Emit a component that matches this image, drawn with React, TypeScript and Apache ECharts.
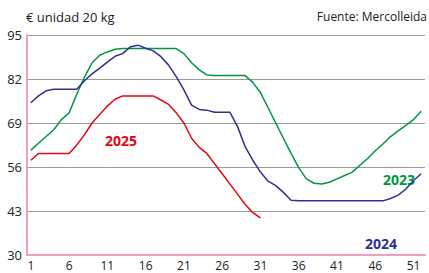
import React, { useEffect, useRef } from "react";
import * as echarts from "echarts";

const weeks: string[] = Array.from({ length: 52 }, (_, i) => String(i + 1));

const s2023: number[] = [
  61, 63, 65, 67, 70, 72, 77.5, 82.5, 86.8, 89, 90, 90.8, 91, 91, 91, 91, 91, 91, 91, 91,
  89.5, 86.8, 84.7, 83.2, 83, 83, 83, 83, 83, 81, 78, 73.5, 69, 64.5, 60, 55.8,
  52.5, 51.2, 51, 51.5, 52.5, 53.5, 54.5, 56.5, 58.5, 60.8, 62.8, 65, 66.7, 68.3, 70, 72.5,
];

const s2024: number[] = [
  75, 77, 78.5, 79, 79, 79, 79, 81.5, 83.5, 85.2, 87, 88.7, 89.5, 91.5, 92, 91.1, 90.3, 88.6, 86.1, 82.7,
  78.8, 74.3, 73, 72.8, 72.2, 72.2, 72.2, 68, 62, 58, 54.5, 51.8, 50.5, 48.5, 46.2, 46,
  46, 46, 46, 46, 46, 46, 46, 46, 46, 46, 46, 46.7, 47.7, 49.5, 52, 54,
];

const s2025: number[] = [
  58, 60, 60, 60, 60, 60, 62.5, 65.5, 69, 71.5, 74, 76, 77, 77, 77, 77, 77, 75.8, 74.5, 72,
  69, 64.5, 61.8, 60, 57, 54, 51, 48, 45, 42.5, 41,
];

const yTicks: number[] = [30, 43, 56, 69, 82, 95];

const RED = "#e30613";
const GREEN = "#009640";
const BLUE = "#2e3192";
const PINK = "#f29cc4";
const FONT = "Open Sans";

export default function App() {
  const ref = useRef<HTMLDivElement>(null);
  useEffect(() => {
    if (!ref.current) return;
    const chart = echarts.init(ref.current, undefined, { renderer: "svg" });
    chart.setOption({
      animation: false,
      backgroundColor: "#ffffff",
      grid: { left: 27, right: 4, top: 35, bottom: 18, containLabel: false },
      xAxis: {
        type: "category",
        data: weeks,
        boundaryGap: true,
        axisLine: { show: true, lineStyle: { color: PINK, width: 2 } },
        axisTick: { show: false },
        axisLabel: {
          interval: 4,
          color: "#222",
          fontSize: 12,
          lineHeight: 12,
          fontFamily: FONT,
          margin: 4,
        },
        splitLine: { show: false },
      },
      yAxis: {
        type: "value",
        min: 30,
        max: 95,
        axisLine: { show: true, lineStyle: { color: PINK, width: 2 } },
        axisTick: { show: false, customValues: yTicks },
        axisLabel: {
          customValues: yTicks,
          color: "#222",
          fontSize: 13,
          fontFamily: FONT,
          margin: 5,
        },
        splitLine: { show: true, lineStyle: { color: "#9a9a9a", width: 1 } },
      },
      series: [
        {
          name: "2023",
          type: "line",
          data: s2023,
          symbol: "none",
          lineStyle: { color: GREEN, width: 1.5 },
          z: 3,
        },
        {
          name: "2024",
          type: "line",
          data: s2024,
          symbol: "none",
          lineStyle: { color: BLUE, width: 1.5 },
          z: 4,
        },
        {
          name: "2025",
          type: "line",
          data: s2025,
          symbol: "none",
          lineStyle: { color: RED, width: 1.5 },
          z: 5,
        },
      ],
      graphic: [
        {
          type: "text",
          left: 26,
          top: 10,
          style: { text: "€ unidad 20 kg", fontSize: 13, fontFamily: FONT, fill: "#222" },
        },
        {
          type: "text",
          right: 2,
          top: 10,
          style: { text: "Fuente: Mercolleida", fontSize: 12, fontFamily: FONT, fill: "#222" },
        },
        {
          type: "text",
          x: 105,
          y: 133,
          style: { text: "2025", fontSize: 14, fontWeight: "bold", fontFamily: FONT, fill: RED },
        },
        {
          type: "text",
          x: 383,
          y: 172,
          style: { text: "2023", fontSize: 14, fontWeight: "bold", fontFamily: FONT, fill: GREEN },
        },
        {
          type: "text",
          x: 365,
          y: 236,
          style: { text: "2024", fontSize: 14, fontWeight: "bold", fontFamily: FONT, fill: BLUE },
        },
      ],
    });
    return () => chart.dispose();
  }, []);
  return (
    <div
      ref={ref}
      style={{ position: "fixed", left: 0, top: 0, width: 429, height: 273, background: "#fff" }}
    />
  );
}
